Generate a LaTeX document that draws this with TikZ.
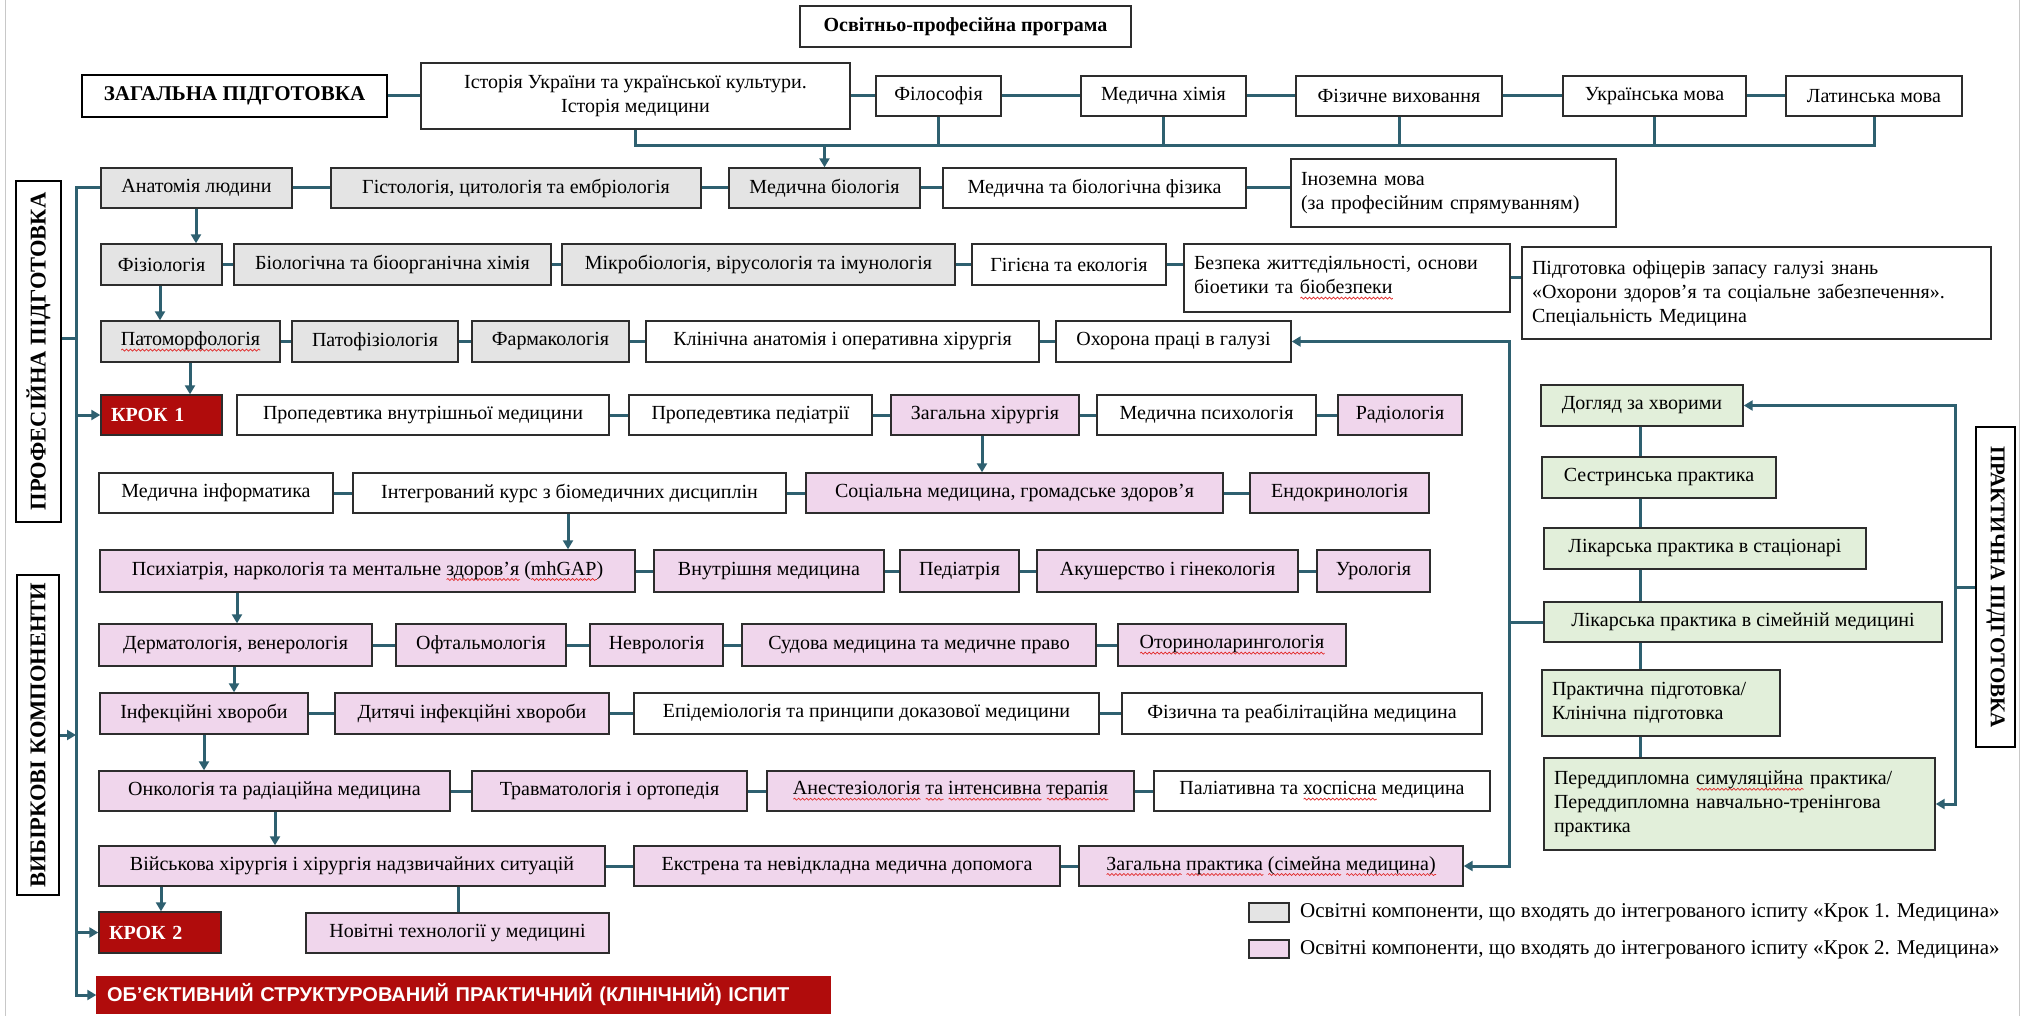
\documentclass[tikz,border=0pt]{standalone}
\usepackage{fontspec}
\setmainfont{Liberation Serif}
\newfontfamily\arialf{Liberation Sans}
\usetikzlibrary{arrows.meta,calc,decorations.pathmorphing}
\definecolor{ln}{RGB}{46,96,112}
\definecolor{bd}{RGB}{45,45,45}
\definecolor{grayf}{RGB}{228,228,228}
\definecolor{pinkf}{RGB}{240,214,236}
\definecolor{greenf}{RGB}{226,239,218}
\definecolor{redf}{RGB}{176,12,12}
\definecolor{frame}{RGB}{200,200,200}
\definecolor{spell}{RGB}{225,40,40}
\newsavebox\rwbox
\newlength\rwlen
\newcommand{\rw}[1]{\sbox\rwbox{#1}\setlength\rwlen{\wd\rwbox}\rlap{\tikz[baseline=0pt]\draw[spell, line width=0.7pt, decorate, decoration={snake, amplitude=1pt, segment length=4pt}] (0pt,-4.5pt) -- (\rwlen,-4.5pt);}\usebox\rwbox}
\newcommand{\bx}[7]{\node[#2, minimum width={(#5-#3)*1pt}, minimum height={(#6-#4)*1pt}] (#1) at ({(#3+#5)/2},{(#4+#6)/2}) {#7};}
\newcommand{\bxl}[7]{\pgfmathsetlengthmacro\mytw{(#5-#3)*1pt-20pt}\node[#2, inner xsep=10pt, text width=\mytw, align=left, minimum height={(#6-#4)*1pt}] (#1) at ({(#3+#5)/2},{(#4+#6)/2}) {#7};}
\begin{document}
\begin{tikzpicture}[x=1pt,y=-1pt,
  >={Triangle[length=9pt,width=10pt]},
  box/.style={draw=bd, line width=1.4pt, fill=white, inner xsep=3pt, inner ysep=2pt, font=\fontsize{20}{24}\selectfont},
  gbox/.style={box, fill=grayf},
  pbox/.style={box, fill=pinkf},
  ebox/.style={box, fill=greenf},
  rbox/.style={box, fill=redf, text=white, font=\fontsize{20}{24}\selectfont\bfseries},
  hdr/.style={draw=black, line width=2.6pt, fill=white, inner sep=2pt, font=\fontsize{21}{25}\selectfont\bfseries},
  vhdr/.style={hdr, font=\fontsize{22.5}{26}\selectfont\bfseries},
  sw/.style={draw=bd, line width=2.6pt},
  con/.style={draw=ln, line width=3pt},
  arr/.style={con, ->},
  lg/.style={font=\fontsize{21}{25}\selectfont, inner sep=0pt, anchor=west}
]
\useasboundingbox (0,0) rectangle (2031,1016);
\fill[white] (0,0) rectangle (2031,1016);
\draw[frame, line width=1pt] (5,0) -- (5,1016);
\draw[frame, line width=1pt] (2019,0) -- (2019,1016);

% top
\bx{op}{box, font=\fontsize{20}{24}\selectfont\bfseries}{800}{6}{1131}{47}{Освітньо-професійна програма}
\bx{zag}{hdr}{82}{75}{387}{117}{ЗАГАЛЬНА ПІДГОТОВКА}
\bx{ist}{box, align=center}{421}{63}{850}{129}{Історія України та української культури.\\Історія медицини}
\bx{fil}{box}{876}{76}{1001}{116}{Філософія}
\bx{khim}{box}{1081}{76}{1246}{116}{Медична хімія}
\bx{fizv}{box}{1296}{76}{1502}{116}{Фізичне виховання}
\bx{ukr}{box}{1563}{76}{1746}{116}{Українська мова}
\bx{lat}{box}{1786}{76}{1962}{116}{Латинська мова}

% row 1
\bx{anat}{gbox}{101}{168}{292}{208}{Анатомія людини}
\bx{hist}{gbox}{331}{168}{701}{208}{Гістологія, цитологія та ембріологія}
\bx{mbio}{gbox}{729}{168}{920}{208}{Медична біологія}
\bx{mfiz}{box}{943}{168}{1246}{208}{Медична та біологічна фізика}
\bxl{inoz}{box}{1291}{159}{1616}{227}{Іноземна мова\\(за професійним спрямуванням)}

% row 2
\bx{fiziol}{gbox}{101}{244}{222}{285}{Фізіологія}
\bx{bioch}{gbox}{234}{244}{551}{285}{Біологічна та біоорганічна хімія}
\bx{mikr}{gbox}{562}{244}{955}{285}{Мікробіологія, вірусологія та імунологія}
\bx{gig}{box}{972}{244}{1166}{285}{Гігієна та екологія}
\bxl{bez}{box}{1184}{244}{1510}{312}{Безпека життєдіяльності, основи\\біоетики та \rw{біобезпеки}}
\bxl{pidg}{box}{1522}{247}{1991}{339}{Підготовка офіцерів запасу галузі знань\\«Охорони здоров’я та соціальне забезпечення».\\Спеціальність Медицина}

% row 3
\bx{patm}{gbox}{101}{321}{280}{362}{\rw{Патоморфологія}}
\bx{patf}{gbox}{292}{321}{458}{362}{Патофізіологія}
\bx{farm}{gbox}{472}{321}{629}{362}{Фармакологія}
\bx{klin}{box}{646}{321}{1039}{362}{Клінічна анатомія і оперативна хірургія}
\bx{ohor}{box}{1056}{321}{1291}{362}{Охорона праці в галузі}

% row 4
\bxl{krok1}{rbox}{101}{395}{222}{435}{КРОК 1}
\bx{prvn}{box}{237}{395}{609}{435}{Пропедевтика внутрішньої медицини}
\bx{prpd}{box}{629}{395}{872}{435}{Пропедевтика педіатрії}
\bx{zhir}{pbox}{891}{395}{1079}{435}{Загальна хірургія}
\bx{mpsy}{box}{1097}{395}{1316}{435}{Медична психологія}
\bx{rad}{pbox}{1338}{395}{1462}{435}{Радіологія}

% row 5
\bx{minf}{box}{99}{473}{333}{513}{Медична інформатика}
\bx{intg}{box}{353}{473}{786}{513}{Інтегрований курс з біомедичних дисциплін}
\bx{soc}{pbox}{806}{473}{1223}{513}{Соціальна медицина, громадське здоров’я}
\bx{endo}{pbox}{1250}{473}{1429}{513}{Ендокринологія}

% row 6
\bx{psy}{pbox}{100}{550}{635}{592}{Психіатрія, наркологія та ментальне \rw{здоров’я} (\rw{mhGAP})}
\bx{vnut}{pbox}{654}{550}{884}{592}{Внутрішня медицина}
\bx{ped}{pbox}{900}{550}{1019}{592}{Педіатрія}
\bx{akush}{pbox}{1037}{550}{1298}{592}{Акушерство і гінекологія}
\bx{urol}{pbox}{1317}{550}{1430}{592}{Урологія}

% row 7
\bx{derm}{pbox}{99}{624}{372}{666}{Дерматологія, венерологія}
\bx{oft}{pbox}{396}{624}{566}{666}{Офтальмологія}
\bx{nevr}{pbox}{590}{624}{723}{666}{Неврологія}
\bx{sud}{pbox}{742}{624}{1096}{666}{Судова медицина та медичне право}
\bx{otor}{pbox}{1118}{624}{1346}{666}{\rw{Оториноларингологія}}

% row 8
\bx{inf}{pbox}{100}{693}{308}{734}{Інфекційні хвороби}
\bx{dyt}{pbox}{335}{693}{609}{734}{Дитячі інфекційні хвороби}
\bx{epid}{box}{634}{693}{1099}{734}{Епідеміологія та принципи доказової медицини}
\bx{fizr}{box}{1122}{693}{1482}{734}{Фізична та реабілітаційна медицина}

% row 9
\bx{onk}{pbox}{99}{771}{450}{811}{Онкологія та радіаційна медицина}
\bx{trav}{pbox}{472}{771}{747}{811}{Травматологія і ортопедія}
\bx{anes}{pbox}{767}{771}{1134}{811}{\rw{Анестезіологія} \rw{та} \rw{інтенсивна} \rw{терапія}}
\bx{pal}{box}{1154}{771}{1490}{811}{Паліативна та \rw{хоспісна} медицина}

% row 10
\bx{viys}{pbox}{99}{846}{605}{886}{Військова хірургія і хірургія надзвичайних ситуацій}
\bx{ekst}{pbox}{634}{846}{1060}{886}{Екстрена та невідкладна медична допомога}
\bx{zprak}{pbox}{1079}{846}{1463}{886}{\rw{Загальна} \rw{практика} \rw{(сімейна} \rw{медицина)}}

% row 11
\bxl{krok2}{rbox}{99}{912}{221}{953}{КРОК 2}
\bx{nov}{pbox}{306}{913}{609}{953}{Новітні технології у медицині}
\bxl{obj}{rbox, draw=redf, font=\arialf\fontsize{20}{24}\selectfont\bfseries}{97}{977}{830}{1013}{ОБ’ЄКТИВНИЙ СТРУКТУРОВАНИЙ ПРАКТИЧНИЙ (КЛІНІЧНИЙ) ІСПИТ}

% side labels
\bx{prof}{vhdr}{16}{181}{61}{522}{\rotatebox{90}{ПРОФЕСІЙНА ПІДГОТОВКА}}
\bx{vyb}{vhdr}{17}{575}{59}{895}{\rotatebox{90}{ВИБІРКОВІ КОМПОНЕНТИ}}
\bx{prakt}{hdr}{1976}{427}{2015}{747}{\rotatebox{-90}{ПРАКТИЧНА ПІДГОТОВКА}}

% practice column
\bx{dog}{ebox}{1541}{385}{1743}{426}{Догляд за хворими}
\bx{sest}{ebox}{1542}{457}{1776}{498}{Сестринська практика}
\bx{lst}{ebox}{1544}{528}{1866}{569}{Лікарська практика в стаціонарі}
\bx{lsim}{ebox}{1544}{602}{1942}{642}{Лікарська практика в сімейній медицині}
\bxl{prk}{ebox}{1542}{670}{1780}{736}{Практична підготовка/\\Клінічна підготовка}
\bxl{pdd}{ebox}{1544}{758}{1935}{850}{Переддипломна \rw{симуляційна} практика/\\Переддипломна навчально-тренінгова\\практика}

% legend
\bx{sw1}{sw, fill=grayf}{1249}{903}{1289}{922}{}
\bx{sw2}{sw, fill=pinkf}{1249}{940}{1289}{958}{}
\node[lg] (lt1) at (1300,913) {Освітні компоненти, що входять до інтегрованого іспиту «Крок 1. Медицина»};
\node[lg] (lt2) at (1300,950) {Освітні компоненти, що входять до інтегрованого іспиту «Крок 2. Медицина»};

% helper coordinates
\coordinate (bus) at (0,146);
\coordinate (lvx) at (76,0);
\coordinate (rvx) at (1509,0);
\coordinate (chx) at (1640,0);
\coordinate (brx) at (1955,0);

% top row connectors
\draw[con] (zag) -- (ist);
\draw[con] (ist) -- (fil);
\draw[con] (fil) -- (khim);
\draw[con] (khim) -- (fizv);
\draw[con] (fizv) -- (ukr);
\draw[con] (ukr) -- (lat);
\draw[con] (ist.south) -- (ist.south |- bus) -- (lat.south |- bus) -- (lat.south);
\draw[con] (fil.south) -- (fil.south |- bus);
\draw[con] (khim.south) -- (khim.south |- bus);
\draw[con] (fizv.south) -- (fizv.south |- bus);
\draw[con] (ukr.south) -- (ukr.south |- bus);
\draw[arr] (mbio.north |- bus) -- (mbio.north);

% row connectors
\draw[con] (anat) -- (hist);
\draw[con] (hist) -- (mbio);
\draw[con] (mbio) -- (mfiz);
\draw[con] (mfiz.east) -- (mfiz.east -| inoz.west);
\draw[con] (fiziol) -- (bioch);
\draw[con] (bioch) -- (mikr);
\draw[con] (mikr) -- (gig);
\draw[con] (gig.east) -- (gig.east -| bez.west);
\draw[con] (bez.east) -- (bez.east -| pidg.west);
\draw[con] (patm) -- (patf);
\draw[con] (patf) -- (farm);
\draw[con] (farm) -- (klin);
\draw[con] (klin) -- (ohor);
\draw[con] (prvn) -- (prpd);
\draw[con] (prpd) -- (zhir);
\draw[con] (zhir) -- (mpsy);
\draw[con] (mpsy) -- (rad);
\draw[con] (minf) -- (intg);
\draw[con] (intg) -- (soc);
\draw[con] (soc) -- (endo);
\draw[con] (psy) -- (vnut);
\draw[con] (vnut) -- (ped);
\draw[con] (ped) -- (akush);
\draw[con] (akush) -- (urol);
\draw[con] (derm) -- (oft);
\draw[con] (oft) -- (nevr);
\draw[con] (nevr) -- (sud);
\draw[con] (sud) -- (otor);
\draw[con] (inf) -- (dyt);
\draw[con] (dyt) -- (epid);
\draw[con] (epid) -- (fizr);
\draw[con] (onk) -- (trav);
\draw[con] (trav) -- (anes);
\draw[con] (anes) -- (pal);
\draw[con] (viys) -- (ekst);
\draw[con] (ekst) -- (zprak);

% vertical arrows
\draw[arr] (196,0 |- anat.south) -- (196,0 |- fiziol.north);
\draw[arr] (160,0 |- fiziol.south) -- (160,0 |- patm.north);
\draw[arr] (190,0 |- patm.south) -- (190,0 |- krok1.north);
\draw[arr] (982,0 |- zhir.south) -- (982,0 |- soc.north);
\draw[arr] (568,0 |- intg.south) -- (568,0 |- psy.north);
\draw[arr] (237,0 |- psy.south) -- (237,0 |- derm.north);
\draw[arr] (234,0 |- derm.south) -- (234,0 |- inf.north);
\draw[arr] (204,0 |- inf.south) -- (204,0 |- onk.north);
\draw[arr] (275,0 |- onk.south) -- (275,0 |- viys.north);
\draw[arr] (161,0 |- viys.south) -- (161,0 |- krok2.north);
\draw[con] (458,0 |- viys.south) -- (458,0 |- nov.north);

% left spine
\draw[arr] (anat.west) -- (lvx |- anat.west) -- (lvx |- obj.west) -- (obj.west);
\draw[arr] (lvx |- krok1.west) -- (krok1.west);
\draw[arr] (lvx |- krok2.west) -- (krok2.west);
\draw[con] (prof.east |- 0,338) -- (lvx |- 0,338);
\draw[arr] (vyb.east) -- (vyb.east -| lvx);

% right spine
\draw[con, <->] (zprak.east) -- (rvx |- zprak.east) -- (rvx |- ohor.east) -- (ohor.east);
\draw[con] (rvx |- lsim.west) -- (lsim.west);

% practice chain
\draw[con] (chx |- dog.south) -- (chx |- sest.north);
\draw[con] (chx |- sest.south) -- (chx |- lst.north);
\draw[con] (chx |- lst.south) -- (chx |- lsim.north);
\draw[con] (chx |- lsim.south) -- (chx |- prk.north);
\draw[con] (chx |- prk.south) -- (chx |- pdd.north);
\draw[con, <->] (dog.east) -- (brx |- dog.east) -- (brx |- pdd.east) -- (pdd.east);
\draw[con] (prakt.west) -- (brx |- prakt.west);
\end{tikzpicture}
\end{document}
